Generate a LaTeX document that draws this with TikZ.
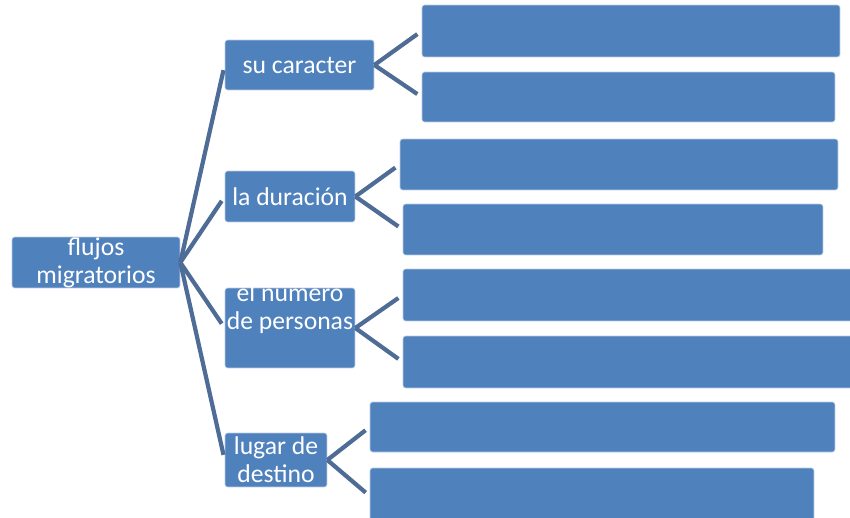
\documentclass[tikz,border=0pt]{standalone}
\usepackage{fontspec}
\setmainfont{Carlito}
\definecolor{boxblue}{RGB}{79,129,189}
\definecolor{lineblue}{RGB}{78,108,150}
\begin{document}
\begin{tikzpicture}[x=0.02cm,y=-0.02cm]

        \useasboundingbox (0,0) rectangle (850,518);

        \begin{scope}[every node/.style={rectangle,rounded corners=1.5pt,fill=boxblue,
            draw=boxblue!40!white,line width=0.4pt,text=white,inner sep=0pt,align=center,
            font=\fontsize{14.6}{16}\selectfont}]
          \node[minimum width=3.36cm,minimum height=1.02cm] (root)     at (96,262.5) {flujos\\migratorios};
          \node[minimum width=2.98cm,minimum height=1.00cm] (caracter) at (299.5,65)  {su caracter};
          \node[minimum width=2.60cm,minimum height=1.02cm] (duracion) at (290,196.5) {la duración};
          \node[minimum width=2.60cm,minimum height=1.60cm] (numero)   at (290,328)   {};
          \node[minimum width=2.04cm,minimum height=1.08cm] (lugar)    at (276,460)   {lugar de\\destino};
          \node[minimum width=8.36cm,minimum height=1.04cm] (c1) at (631,31)    {};
          \node[minimum width=8.26cm,minimum height=1.00cm] (c2) at (628.5,97)  {};
          \node[minimum width=8.76cm,minimum height=1.02cm] (d1) at (619,164.5) {};
          \node[minimum width=8.40cm,minimum height=1.02cm] (d2) at (613,229.5) {};
          \node[minimum width=9.06cm,minimum height=1.04cm] (n1) at (629.5,295) {};
          \node[minimum width=9.06cm,minimum height=1.04cm] (n2) at (629.5,362) {};
          \node[minimum width=9.30cm,minimum height=1.00cm] (l1) at (602.5,427) {};
          \node[minimum width=8.88cm,minimum height=1.12cm] (l2) at (592,496)   {};
        \end{scope}

        \node[text=white,align=center,inner sep=0pt,font=\fontsize{14.6}{16}\selectfont]
          (numerotxt) at (290,309) {el numero\\de personas};

        \begin{scope}[every edge/.style={draw=lineblue,line width=2.4pt,shorten >=3pt}]
          \path (root.east) edge (caracter.west);
          \path (root.east) edge (duracion.west);
          \path (root.east) edge (numero.west);
          \path (root.east) edge (lugar.west);
          \path (caracter.east) edge (c1.west);
          \path (caracter.east) edge (c2.west);
          \path (duracion.east) edge (d1.west);
          \path (duracion.east) edge (d2.west);
          \path (numero.east)   edge (n1.west);
          \path (numero.east)   edge (n2.west);
          \path (lugar.east)    edge (l1.west);
          \path (lugar.east)    edge (l2.west);
        \end{scope}

      \end{tikzpicture}
\end{document}
